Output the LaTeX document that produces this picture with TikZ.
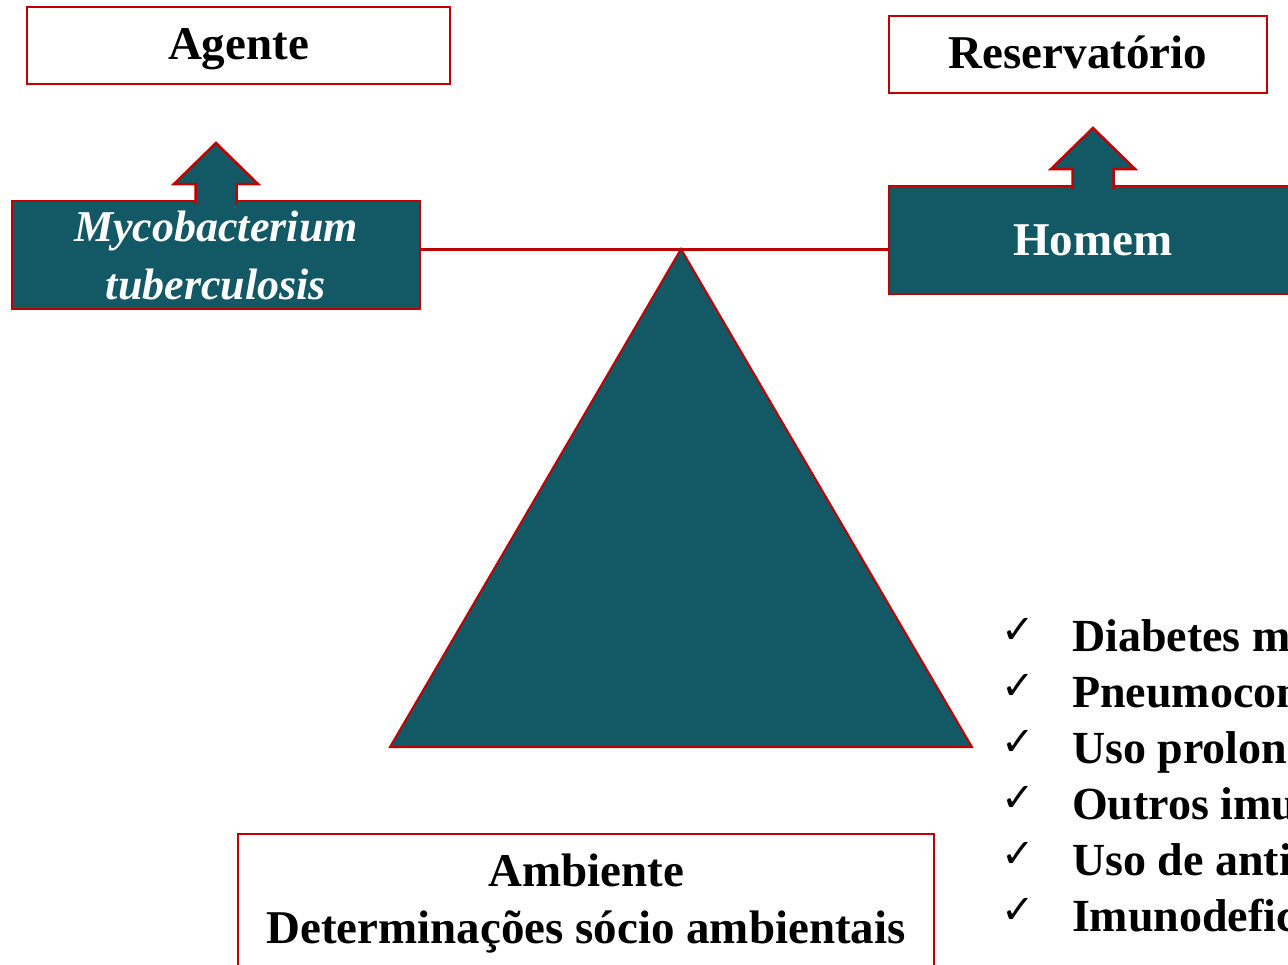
\documentclass[tikz,border=0pt]{standalone}
\usepackage{fontspec}
\setmainfont{Liberation Serif}
\newfontfamily\symfont{DejaVu Sans}
\usepackage{tikz}
\usetikzlibrary{calc}
\definecolor{petrol}{RGB}{18,89,101}
\definecolor{rimred}{RGB}{192,0,0}
\tikzset{x=1pt,y=-1pt,
  every node/.style={inner sep=0pt,outer sep=0pt},
  whitebox/.style={draw=rimred,line width=2.2pt,fill=white,font=\fontsize{47}{57}\selectfont\bfseries},
  oneline/.style={text height=36pt,text depth=9pt},
  darkbox/.style={draw=rimred,line width=2.5pt,fill=petrol,text=white,align=center,minimum width=408pt,minimum height=108pt},
  upshaft/.style={draw=rimred,fill=petrol,line width=2.5pt,line join=miter},
  beam/.style={draw=rimred,line width=3pt},
  item/.style={anchor=base west,font=\fontsize{46}{54}\selectfont\bfseries},
  tick/.style={font=\symfont\fontsize{40}{40}\selectfont}
}

\begin{document}
\begin{tikzpicture}
    \useasboundingbox (0,0) rectangle (1288,964);
    % top labels
    \node[whitebox,oneline,minimum width=423pt,minimum height=77pt] (agente) at (238.5,45.5) {Agente};
    \node[whitebox,oneline,minimum width=378pt,minimum height=77pt] (reserv) at (1078,54.5) {Reservatório};
    % dark boxes with up arrows
    \node[darkbox,font=\fontsize{44}{58}\selectfont\bfseries\itshape] (myco) at (216,255) {Mycobacterium\\tuberculosis};
    \node[darkbox,font=\fontsize{47}{57}\selectfont\bfseries] (homem) at (1093,240) {Homem};
    \foreach \b in {myco,homem}
      \filldraw[upshaft] ($(\b.north)+(-20.5,3)$) -- ++(0,-20) -- ++(-21.5,0) -- ++(42,-41)
        -- ++(42,41) -- ++(-21.5,0) -- ++(0,20);
    % balance
    \coordinate (apex) at (681,249);
    \draw[beam] (myco.east |- apex) -- (homem.west |- apex);
    \filldraw[draw=rimred,fill=petrol,line width=2pt,line join=miter] (apex) -- (390,747) -- (972,747) -- cycle;
    \node[whitebox,minimum width=696pt,minimum height=140pt,align=center] (ambiente) at (586,904)
      {Ambiente\\Determinações sócio ambientais};
    % risk list
    \foreach \t [count=\i from 0] in {Diabetes m,Pneumocon,Uso prolon,Outros imu,Uso de anti,Imunodefic}{
      \node[tick] (c\i) at (1018,{631+56*\i}) {✓};
      \node[item] (r\i) at (1072,{651+56*\i}) {\t};
    }
\end{tikzpicture}
\end{document}
